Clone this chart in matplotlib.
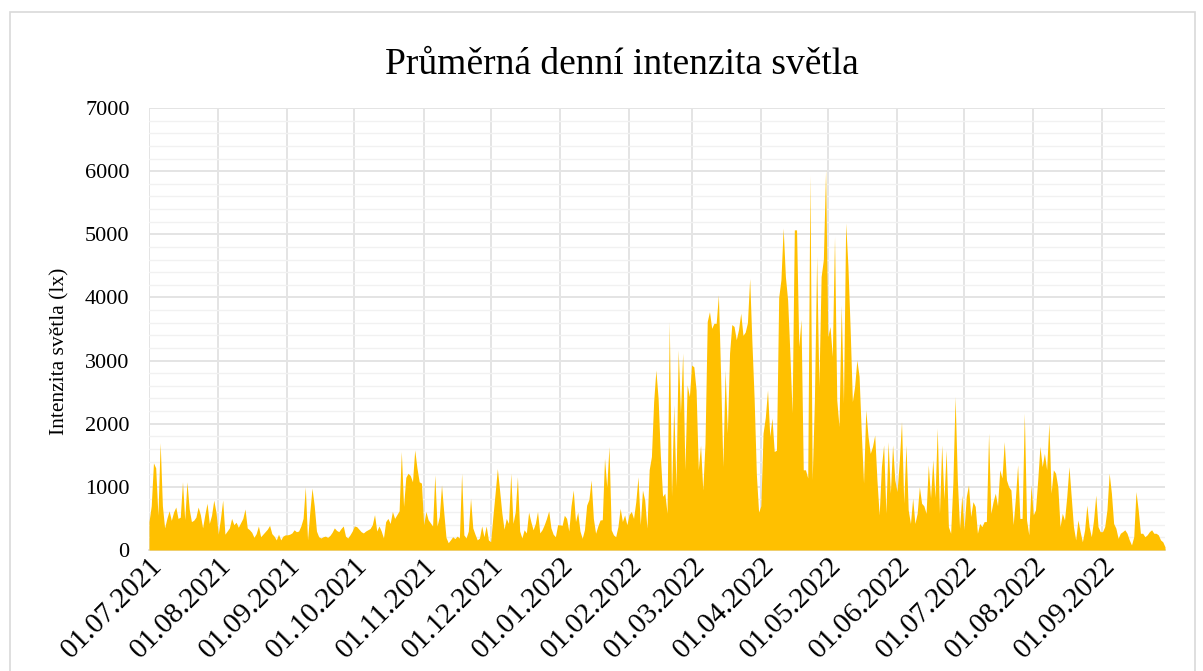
import numpy as np
import pandas as pd
import matplotlib
matplotlib.use('Agg')
import matplotlib.pyplot as plt
import matplotlib.dates as mdates
from matplotlib.ticker import MultipleLocator
from matplotlib.patches import Rectangle

# daily mean light intensity (lx)
jul_2021 = [450, 700, 1380, 1300, 550, 1700, 700, 350, 500, 620, 470, 600, 680, 500, 520, 1080,
            480, 1080, 650, 450, 470, 520, 680, 560, 350, 560, 740, 420, 550, 790, 600]
aug_2021 = [250, 500, 790, 250, 300, 350, 500, 400, 440, 360, 430, 500, 650, 350, 320, 280,
            200, 260, 380, 210, 250, 290, 330, 390, 260, 220, 160, 250, 160, 220, 240]
sep_2021 = [240, 250, 270, 320, 290, 300, 380, 500, 1000, 160, 600, 980, 700, 300, 210,
            190, 210, 220, 200, 230, 280, 350, 310, 290, 340, 380, 220, 190, 240, 300]
oct_2021 = [380, 370, 330, 290, 270, 300, 320, 340, 400, 560, 300, 380, 300, 190, 450, 500,
            420, 610, 500, 560, 620, 1560, 690, 1150, 1215, 1180, 1080, 1585, 1300, 1080, 1060]
nov_2021 = [400, 610, 480, 430, 380, 1190, 380, 530, 1030, 600, 200, 115, 160, 210, 180,
            220, 190, 1215, 240, 190, 300, 820, 350, 250, 160, 190, 380, 210, 380, 160]
dec_2021 = [130, 530, 900, 1290, 950, 590, 330, 500, 420, 1215, 420, 600, 1160, 300, 190, 320,
            270, 600, 450, 320, 420, 610, 270, 320, 400, 500, 620, 350, 250, 210, 400]
jan_2022 = [400, 390, 550, 500, 300, 700, 950, 450, 600, 300, 185, 320, 710, 800, 1110, 500,
            265, 380, 475, 480, 1450, 1000, 1640, 320, 240, 210, 370, 660, 450, 555, 400]
feb_2022 = [560, 610, 500, 765, 1160, 400, 950, 790, 345, 1270, 1480, 2350, 2850, 2400,
            1500, 850, 900, 580, 3620, 850, 2300, 1000, 3170, 2170, 3120, 1270, 2615, 2430]
mar_2022 = [2930, 2900, 2535, 1270, 1660, 950, 1690, 3620, 3775, 3510, 3590, 3590, 4040, 2750,
            1320, 2850, 1850, 3120, 3570, 3540, 3330, 3490, 3750, 3400, 3450, 3600, 4300, 3300,
            2400, 1200, 600]
apr_2022 = [700, 1850, 2100, 2535, 1800, 2090, 1560, 1580, 4000, 4280, 5100, 4330, 3960, 3120,
            2170, 5070, 5070, 3220, 3650, 1270, 1270, 1140, 5940, 1110, 2380, 4650, 2590, 4330,
            4600, 6020]
may_2022 = [3380, 3540, 3065, 4965, 2380, 1955, 3880, 2325, 5180, 4500, 3500, 2350, 2590, 3010,
            2750, 1850, 1060, 2220, 1800, 1530, 1640, 1820, 1110, 555, 1320, 1665, 580, 1715,
            900, 1665, 1110]
jun_2022 = [925, 1400, 2035, 740, 1665, 635, 420, 820, 420, 580, 1000, 740, 700, 580, 1350,
            820, 1430, 830, 1930, 580, 1665, 800, 1585, 370, 265, 1060, 2430, 1110, 345, 870]
jul_2022 = [320, 845, 1030, 530, 765, 690, 265, 420, 370, 450, 450, 1850, 580, 765, 900, 700,
            1270, 1140, 1715, 1110, 1000, 950, 400, 820, 1350, 500, 500, 2170, 475, 240, 1030]
aug_2022 = [555, 635, 1110, 1640, 1320, 1530, 1270, 2010, 900, 1270, 1215, 1000, 370, 580, 475,
            845, 1320, 845, 370, 160, 475, 290, 130, 320, 710, 370, 210, 475, 870, 370, 290]
sep_2022 = [290, 370, 635, 1215, 900, 420, 345, 185, 265, 290, 320, 265, 160, 80, 210,
            925, 635, 265, 265, 210, 240, 290, 320, 265, 265, 240, 160, 130, 50]

values = (jul_2021 + aug_2021 + sep_2021 + oct_2021 + nov_2021 + dec_2021 + jan_2022
          + feb_2022 + mar_2022 + apr_2022 + may_2022 + jun_2022 + jul_2022 + aug_2022 + sep_2022)
dates = pd.date_range('2021-07-01', periods=len(values), freq='D')

title = 'Průměrná denní intenzita světla'
y_label = 'Intenzita světla (lx)'

plt.rcParams['font.family'] = ['Liberation Serif', 'DejaVu Serif']

fig = plt.figure(figsize=(12.03, 6.71), dpi=100)
ax = fig.add_axes([149 / 1203, 1 - 550 / 671, (1165 - 149) / 1203, (550 - 108) / 671])

ax.fill_between(dates, values, 0, color='#FFC000', linewidth=0, zorder=3)

ax.set_ylim(0, 7000)
ax.set_xlim(dates[0], dates[-1])
ax.yaxis.set_major_locator(MultipleLocator(1000))
ax.yaxis.set_minor_locator(MultipleLocator(200))
ax.xaxis.set_major_locator(mdates.MonthLocator(bymonthday=1))
ax.xaxis.set_major_formatter(mdates.DateFormatter('%d.%m.%Y'))

ax.grid(which='major', axis='both', color='#E4E4E4', linewidth=1.4, zorder=0)
ax.grid(which='minor', axis='y', color='#F1F1F1', linewidth=1.0, zorder=0)
ax.set_axisbelow(True)

for side in ['top', 'right', 'left']:
    ax.spines[side].set_visible(False)
ax.spines['bottom'].set_color('#D9D9D9')
ax.spines['bottom'].set_linewidth(1.2)
ax.tick_params(which='both', length=0)
ax.tick_params(axis='y', labelsize=16, pad=14)
ax.tick_params(axis='x', labelsize=21, pad=2)
for lbl in ax.get_xticklabels():
    lbl.set_rotation(45)
    lbl.set_ha('right')
    lbl.set_rotation_mode('anchor')

fig.text(60 / 1203, 1 - 351 / 671, y_label, rotation=90, ha='center', va='center', fontsize=15.5)
fig.text(622 / 1203, 1 - 65 / 671, title, ha='center', va='center', fontsize=27)

# chart area border
fig.patches.append(Rectangle((10 / 1203, -0.05), (1195 - 10) / 1203, 1.05 - 12 / 671,
                             transform=fig.transFigure, fill=False,
                             edgecolor='#D9D9D9', linewidth=1.2))

fig.savefig('out.png', dpi=100)
